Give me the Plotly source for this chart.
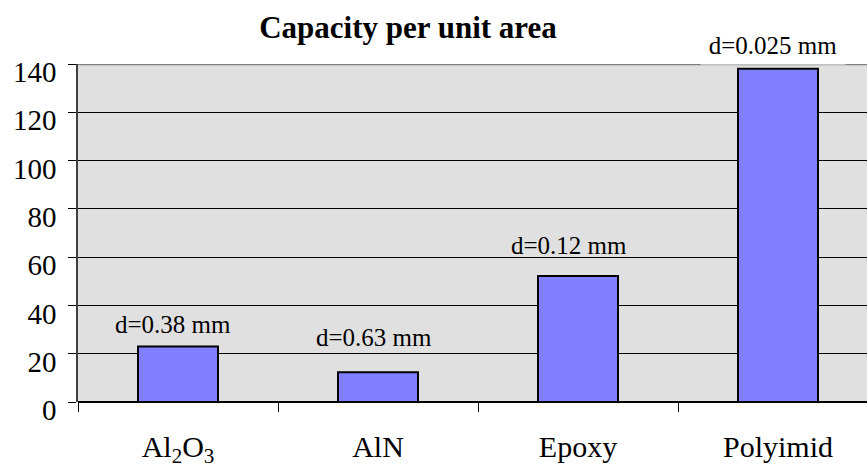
import plotly.graph_objects as go

# ---- data ----
categories = ["Al<sub>2</sub>O<sub>3</sub>", "AlN", "Epoxy", "Polyimid"]
capacity = [23, 12.3, 52.2, 138]
thickness_labels = ["d=0.38 mm", "d=0.63 mm", "d=0.12 mm", "d=0.025 mm"]
y_ticks = [0, 20, 40, 60, 80, 100, 120, 140]

# ---- styling ----
label_yshift = [6, 19, 15, 4]
label_xshift = [-5, -4, -9, -5]
FONT = "Liberation Serif"

fig = go.Figure()
fig.add_trace(go.Bar(
    x=categories, y=capacity, width=0.4,
    marker=dict(color="#8080ff", line=dict(color="black", width=2)),
    showlegend=False,
))

for i, (c, v, t) in enumerate(zip(categories, capacity, thickness_labels)):
    last = i == len(categories) - 1
    fig.add_annotation(
        x=c, y=v, text=t, showarrow=False, xref="x", yref="y",
        yanchor="bottom", xanchor="center",
        yshift=label_yshift[i], xshift=label_xshift[i],
        font=dict(family=FONT, size=25, color="black"),
        bgcolor="white" if last else "rgba(0,0,0,0)",
        borderpad=5 if last else 1,
        width=134 if last else None,
    )

# gray top border line of the plot area
fig.add_shape(type="line", xref="paper", yref="y", x0=0, x1=1, y0=140, y1=140,
              line=dict(color="#808080", width=2.5), layer="above")

fig.update_layout(
    width=867, height=469,
    margin=dict(l=78, r=0, t=64, b=67, autoexpand=False),
    paper_bgcolor="white", plot_bgcolor="#e0e0e0",
    font=dict(family=FONT, color="black"),
    title=dict(text="<b>Capacity per unit area</b>", x=408/867, xanchor="center",
               xref="container", y=1 - 27/469, yref="container", yanchor="middle",
               font=dict(family=FONT, size=31, color="black")),
    bargap=0.6,
)
fig.update_xaxes(
    type="category", range=[-0.5, 3.445], tickson="boundaries", automargin=False,
    ticks="outside", ticklen=9, tickcolor="black", tickwidth=1,
    showgrid=False, showline=False, zeroline=False,
    tickfont=dict(family=FONT, size=30, color="black"),
    ticklabelstandoff=24,
)
fig.update_yaxes(
    range=[0, 140], tickvals=y_ticks, ticks="outside", ticklen=8, automargin=False,
    tickcolor="black", tickwidth=1,
    showgrid=True, gridcolor="black", gridwidth=1,
    showline=True, linecolor="#404040", linewidth=1.5,
    zeroline=True, zerolinecolor="black", zerolinewidth=2,
    tickfont=dict(family=FONT, size=29, color="black"),
    ticklabelstandoff=6, ticklabelshift=8,
)

fig.write_html("out.html")
